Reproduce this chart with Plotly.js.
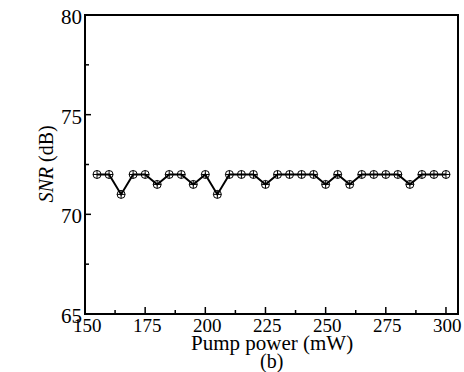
<!DOCTYPE html>
<html>
<head>
<meta charset="utf-8">
<script src="https://cdn.plot.ly/plotly-3.0.1.min.js"></script>
<style>html,body{margin:0;padding:0;background:#fff;}#chart{width:464px;height:372px;}</style>
</head>
<body>
<div id="chart"></div>
<script>
var pumpPower = [155,160,165,170,175,180,185,190,195,200,205,210,215,220,225,230,235,240,245,250,255,260,265,270,275,280,285,290,295,300];
var snr = [72,72,71,72,72,71.5,72,72,71.5,72,71,72,72,72,71.5,72,72,72,72,71.5,72,71.5,72,72,72,72,71.5,72,72,72];
var xTicks = [150,175,200,225,250,275,300];
var xMinor = [162.5,187.5,212.5,237.5,262.5,287.5];
var yTicks = [65,70,75,80];
var yMinor = [67.5,72.5,77.5];

var serif = "Liberation Serif";

var trace = {
  x: pumpPower, y: snr, type: 'scatter', mode: 'lines+markers',
  line: {color: '#000', width: 2},
  marker: {symbol: 'circle-cross-open', size: 8, color: '#000', line: {width: 1, color: '#000'}},
  showlegend: false
};

var shapes = [{
  type: 'rect', xref: 'paper', yref: 'paper', x0: 0, y0: 0, x1: 1, y1: 1,
  line: {color: '#000', width: 2}
}];
function xTick(v, len) {
  shapes.push({type: 'line', xref: 'x', yref: 'paper', ysizemode: 'pixel', yanchor: 0,
    x0: v, x1: v, y0: 0, y1: len, line: {color: '#000', width: 1.5}});
}
function yTick(v, len) {
  shapes.push({type: 'line', yref: 'y', xref: 'paper', xsizemode: 'pixel', xanchor: 0,
    y0: v, y1: v, x0: 0, x1: len, line: {color: '#000', width: 1.5}});
}
xTicks.forEach(function(v){ xTick(v, 7); });
xMinor.forEach(function(v){ xTick(v, 4); });
yTicks.forEach(function(v){ yTick(v, 6); });
yMinor.forEach(function(v){ yTick(v, 4); });

var annotations = [];
xTicks.forEach(function(v){
  annotations.push({text: String(v), xref: 'x', yref: 'paper', x: v, y: 0, yshift: -11, xshift: 2,
    xanchor: 'center', yanchor: 'middle', showarrow: false,
    font: {family: serif, size: 19, color: '#000'}});
});
yTicks.forEach(function(v){
  annotations.push({text: String(v), xref: 'paper', yref: 'y', x: 0, y: v, xshift: -1, yshift: -2,
    xanchor: 'right', yanchor: 'middle', showarrow: false,
    font: {family: serif, size: 21, color: '#000'}});
});
annotations.push({
  text: '<i>SNR</i> (dB)', xref: 'paper', yref: 'paper', x: 0, y: 0.5, xshift: -39,
  xanchor: 'center', yanchor: 'middle', textangle: -90, showarrow: false,
  font: {family: serif, size: 20, color: '#000'}
}, {
  text: 'Pump power (mW)', xref: 'paper', yref: 'paper', x: 0.5, y: 0, yshift: -29,
  xanchor: 'center', yanchor: 'middle', showarrow: false,
  font: {family: serif, size: 21, color: '#000'}
}, {
  text: '(b)', xref: 'paper', yref: 'paper', x: 0.5, y: 0, yshift: -47,
  xanchor: 'center', yanchor: 'middle', showarrow: false,
  font: {family: serif, size: 20, color: '#000'}
});

var layout = {
  width: 464, height: 372,
  margin: {l: 85, r: 6, t: 15, b: 58},
  font: {family: serif, color: '#000', size: 19},
  paper_bgcolor: '#fff', plot_bgcolor: '#fff',
  xaxis: {range: [150, 305], showticklabels: false, ticks: '', showgrid: false, zeroline: false, showline: false},
  yaxis: {range: [65, 80], showticklabels: false, ticks: '', showgrid: false, zeroline: false, showline: false},
  shapes: shapes,
  annotations: annotations
};

Plotly.newPlot('chart', [trace], layout, {displayModeBar: false});
</script>
</body>
</html>
